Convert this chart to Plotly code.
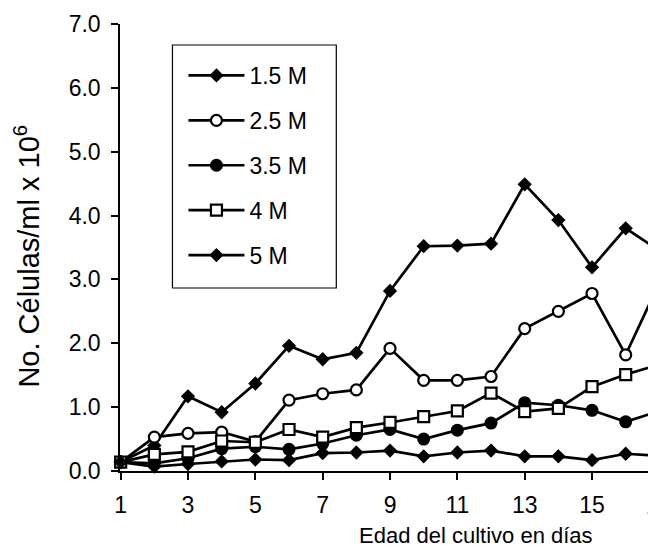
import plotly.graph_objects as go

days = list(range(1, 18))
series_names = ["1.5 M", "2.5 M", "3.5 M", "4 M", "5 M"]
m15 = [0.14, 0.40, 1.17, 0.92, 1.37, 1.96, 1.75, 1.85, 2.82, 3.52, 3.53, 3.56, 4.49, 3.93, 3.19, 3.80, 3.45]
m25 = [0.14, 0.53, 0.59, 0.61, 0.46, 1.11, 1.21, 1.27, 1.92, 1.42, 1.42, 1.48, 2.23, 2.50, 2.78, 1.82, 2.95]
m35 = [0.14, 0.12, 0.20, 0.35, 0.38, 0.34, 0.43, 0.56, 0.65, 0.50, 0.64, 0.75, 1.07, 1.03, 0.95, 0.77, 0.94]
m4 = [0.14, 0.26, 0.30, 0.47, 0.45, 0.65, 0.53, 0.68, 0.76, 0.85, 0.94, 1.22, 0.93, 0.98, 1.32, 1.51, 1.67]
m5 = [0.14, 0.07, 0.11, 0.15, 0.18, 0.17, 0.28, 0.29, 0.32, 0.23, 0.29, 0.32, 0.23, 0.23, 0.17, 0.27, 0.24]
values = [m15, m25, m35, m4, m5]
y_ticks = [0, 1, 2, 3, 4, 5, 6, 7]
x_ticks = [1, 3, 5, 7, 9, 11, 13, 15, 17]

styles = [
    dict(symbol="diamond", size=11, color="black", line=dict(color="black", width=0)),
    dict(symbol="circle", size=11, color="white", line=dict(color="black", width=2.2)),
    dict(symbol="circle", size=13, color="black", line=dict(color="black", width=0)),
    dict(symbol="square", size=11, color="white", line=dict(color="black", width=2.2)),
    dict(symbol="diamond", size=11, color="black", line=dict(color="black", width=0)),
]

FONT = "Liberation Sans, Arial, sans-serif"

# browser body margin is 8px: figure starts at page (8, 8)
OFF = 8
W, H = 656 - OFF, 557 - OFF
PX0, PX1, PY0, PY1 = 119.5, 656.0, 24.0, 471.0  # plot area in page pixels


def px(xp):
    return (xp - PX0) / (PX1 - PX0)


def py(yp):
    return (PY1 - yp) / (PY1 - PY0)


fig = go.Figure()
for name, vals, mk in zip(series_names, values, styles):
    fig.add_trace(go.Scatter(
        x=days, y=vals, name=name, mode="lines+markers",
        line=dict(color="black", width=2.7),
        marker=mk, cliponaxis=False, legendgroup=name,
    ))

fig.update_layout(
    width=W, height=H,
    margin=dict(l=PX0 - OFF, r=0, t=PY0 - OFF, b=557 - PY1),
    paper_bgcolor="white", plot_bgcolor="white",
    font=dict(family=FONT, size=23, color="black"),
    legend=dict(
        x=px(183), y=py(54), xanchor="left", yanchor="top",
        borderwidth=0, bgcolor="rgba(0,0,0,0)",
        font=dict(size=23), tracegroupgap=12, itemwidth=56,
    ),
    shapes=[
        dict(type="rect", xref="paper", yref="paper",
             x0=px(172), x1=px(336), y0=py(288), y1=py(45),
             line=dict(color="black", width=1.2), fillcolor="rgba(0,0,0,0)"),
    ],
    xaxis=dict(
        range=[0.98, 16.9], tickvals=x_ticks, ticktext=[str(v) for v in x_ticks],
        showgrid=False, zeroline=False, showline=True, linecolor="black", linewidth=1.5,
        ticks="outside", ticklen=7, tickcolor="black", tickwidth=1.5,
        ticklabelstandoff=6,
    ),
    yaxis=dict(
        range=[0, 7], tickvals=y_ticks, ticktext=[f"{v:.1f}" for v in y_ticks],
        showgrid=False, zeroline=False, showline=True, linecolor="black", linewidth=1.5,
        ticks="outside", ticklen=7, tickcolor="black", tickwidth=1.5,
        ticklabelstandoff=6,
    ),
    annotations=[
        dict(text="17", xref="paper", yref="paper",
             x=px(659), y=-0.078, xanchor="center", yanchor="middle",
             showarrow=False, font=dict(size=23)),
        dict(text="Edad del cultivo en días", xref="paper", yref="paper",
             x=px(476), y=py(535), xanchor="center", yanchor="middle",
             showarrow=False, font=dict(size=22)),
        dict(text="No. Células/ml x 10<sup>6</sup>", xref="paper", yref="paper",
             x=px(26), y=py(256), xanchor="center", yanchor="middle", textangle=-90,
             showarrow=False, font=dict(size=29)),
    ],
)

fig.write_html("out.html")
